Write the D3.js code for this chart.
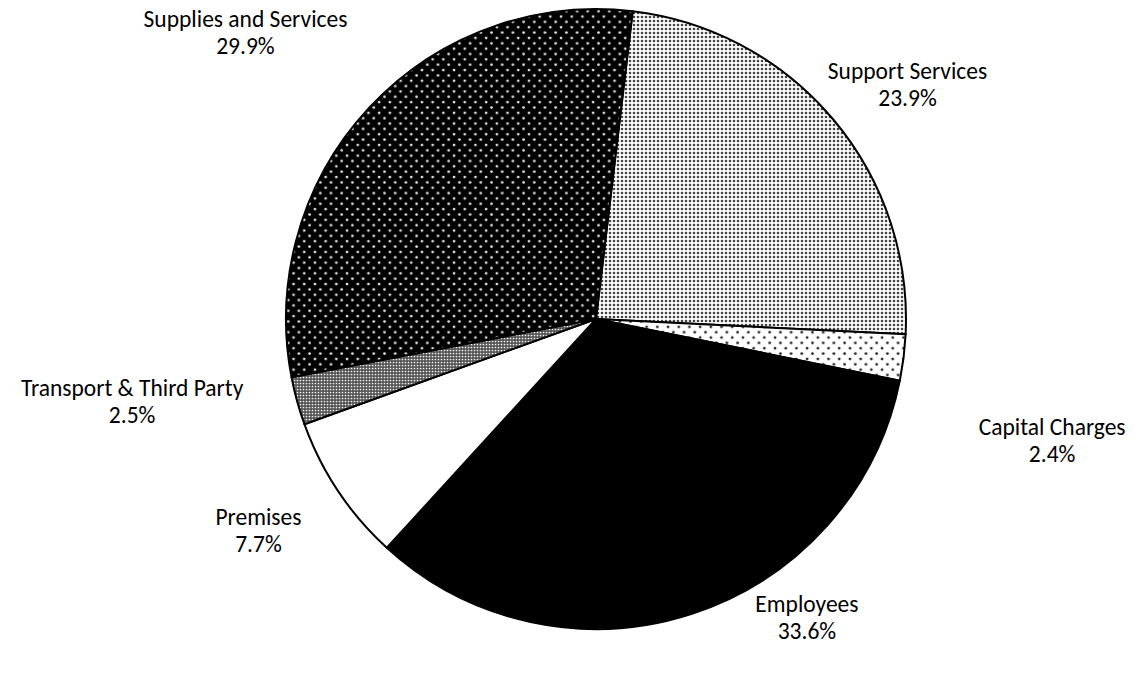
<!DOCTYPE html>
<html><head><meta charset="utf-8">
<script src="https://cdn.jsdelivr.net/npm/d3@7"></script>
<style>body{margin:0;background:#fff}svg{display:block}</style>
</head><body>
<svg id="c" width="1136" height="675"></svg>
<script>
const categories = ["Support Services","Capital Charges","Employees","Premises","Transport & Third Party","Supplies and Services"];
const values = [23.9, 2.4, 33.6, 7.7, 2.5, 29.9];
const valueLabels = ["23.9%","2.4%","33.6%","7.7%","2.5%","29.9%"];

// layout
const cx = 596, cy = 319, R = 310;
const startDeg = 6.8;
const fills = ["url(#pSupport)","url(#pCapital)","#000","#fff","url(#pTransport)","url(#pSupplies)"];
// label anchor: [angle deg, distance]
const labelPos = [[53,390],[104.9,472],[144.7,365],[238,398],[260,471],[309.3,453]];

const svg = d3.select("#c");
const defs = svg.append("defs");
function pat(id,w,h,bg,dots,dc,r){
  const p = defs.append("pattern").attr("id",id).attr("patternUnits","userSpaceOnUse").attr("width",w).attr("height",h);
  p.append("rect").attr("width",w).attr("height",h).attr("fill",bg);
  dots.forEach(d=>p.append("circle").attr("cx",d[0]).attr("cy",d[1]).attr("r",r).attr("fill",dc));
}
pat("pSupport",4,4,"#fff",[[2,2]],"#444",1.3);
pat("pCapital",10.7,10.7,"#fff",[[2.5,2.5],[7.85,7.85]],"#222",1.4);
pat("pSupplies",10.7,10.7,"#000",[[2.5,2.5],[7.85,7.85]],"#e0e0e0",1.4);
pat("pTransport",3,3,"#555",[[1.5,1.5]],"#f4f4f4",0.85);

const pie = d3.pie().sort(null).value(d=>d)
  .startAngle(startDeg*Math.PI/180).endAngle((startDeg+360)*Math.PI/180);
const arcs = pie(values);
const arc = d3.arc().innerRadius(0).outerRadius(R);
const g = svg.append("g").attr("transform",`translate(${cx},${cy})`);
g.selectAll("path").data(arcs).join("path")
  .attr("d",arc).attr("fill",(d,i)=>fills[i])
  .attr("stroke","#000").attr("stroke-width",2).attr("stroke-linejoin","round");

const font = "Calibri, Carlito, Lato, sans-serif";
arcs.forEach((d,i)=>{
  const a = labelPos[i][0]*Math.PI/180, r = labelPos[i][1];
  const x = cx + r*Math.sin(a), y = cy - r*Math.cos(a);
  const t = svg.append("text").attr("x",x).attr("y",y).attr("text-anchor","middle")
    .attr("font-family",font).attr("font-size",23.5).attr("fill","#000");
  t.append("tspan").attr("x",x).attr("dy",-5).text(categories[i]);
  t.append("tspan").attr("x",x).attr("dy",27).text(valueLabels[i]);
});
</script>
</body></html>
